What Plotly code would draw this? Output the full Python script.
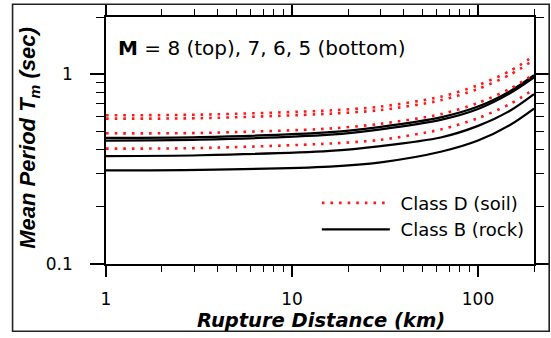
import math
import plotly.graph_objects as go

# ---- data ----
distance_km = [1, 3.2, 16, 30, 63, 100, 150, 200]
magnitudes = [8, 7, 6, 5]

soil_M8 = [0.607, 0.612, 0.644, 0.675, 0.760, 0.875, 1.045, 1.25]
soil_M7 = [0.583, 0.586, 0.619, 0.647, 0.728, 0.836, 0.998, 1.19]
soil_M6 = [0.488, 0.490, 0.517, 0.548, 0.615, 0.705, 0.842, 1.00]
soil_M5 = [0.405, 0.408, 0.431, 0.451, 0.511, 0.586, 0.700, 0.833]

rock_M8 = [0.462, 0.466, 0.495, 0.528, 0.592, 0.675, 0.818, 0.988]
rock_M7 = [0.447, 0.452, 0.480, 0.512, 0.574, 0.655, 0.797, 0.961]
rock_M6 = [0.370, 0.374, 0.394, 0.418, 0.464, 0.534, 0.645, 0.784]
rock_M5 = [0.311, 0.313, 0.326, 0.343, 0.390, 0.447, 0.543, 0.659]

soil_series = [soil_M8, soil_M7, soil_M6, soil_M5]
rock_series = [rock_M8, rock_M7, rock_M6, rock_M5]

x_tickvals = [1, 10, 100]
x_ticktext = ["1", "10", "100"]
x_minor = [2, 3, 4, 5, 6, 7, 8, 9, 20, 30, 40, 50, 60, 70, 80, 90, 200]
y_tickvals = [0.1, 1]
y_ticktext = ["0.1", "1"]
y_minor = [0.2, 0.3, 0.4, 0.5, 0.6, 0.7, 0.8, 0.9, 2]

soil_name = "\u00a0Class D (soil)"
rock_name = "\u00a0Class B (rock)"
title_text = "<b>M</b> = 8 (top), 7, 6, 5 (bottom)"
x_title = "<b><i>Rupture Distance (km)</i></b>"
y_title = "<b><i>Mean Period T<sub>m</sub> (sec)</i></b>"

# ---- figure ----
RED = "rgb(255,25,25)"
FONT = "DejaVu Sans, Liberation Sans, Arial"

fig = go.Figure()
for i, (m, ys) in enumerate(zip(magnitudes, rock_series)):
    fig.add_trace(go.Scatter(
        x=distance_km, y=ys, mode="lines", name=rock_name,
        legendgroup="rock", showlegend=(i == 0), legendrank=2,
        line=dict(color="black", width=2.2, shape="spline", smoothing=0.8),
    ))
for i, (m, ys) in enumerate(zip(magnitudes, soil_series)):
    fig.add_trace(go.Scatter(
        x=distance_km, y=ys, mode="lines", name=soil_name,
        legendgroup="soil", showlegend=(i == 0), legendrank=1,
        line=dict(color=RED, width=2.6, dash="2.6px,6px", shape="spline", smoothing=0.8),
    ))

L, R, T, B = 106, 16.7, 17.3, 73.7
W, H = 551, 338
pw, ph = W - L - R, H - T - B

def px2paper_x(px):
    return (px - L) / pw

def px2paper_y(py):
    return (H - B - py) / ph

axis_common = dict(
    type="log", showline=True, linecolor="black", linewidth=1.5, mirror="ticks",
    ticks="outside", tickcolor="black", tickwidth=1.5, showgrid=False, zeroline=False,
    tickmode="array", tickfont=dict(family=FONT, size=17, color="black"),
    automargin=False,
)

fig.update_xaxes(
    **axis_common, range=[0, math.log10(200)], tickvals=x_tickvals, ticktext=x_ticktext,
    ticklen=11, ticklabelstandoff=8,
    minor=dict(tickmode="array", tickvals=x_minor, ticks="outside", ticklen=6,
               tickwidth=1.3, tickcolor="black", showgrid=False),
)
fig.update_yaxes(
    **axis_common, range=[-1, math.log10(2)], tickvals=y_tickvals, ticktext=y_ticktext,
    ticklen=14, ticklabelstandoff=14,
    minor=dict(tickmode="array", tickvals=y_minor, ticks="outside", ticklen=8,
               tickwidth=1.3, tickcolor="black", showgrid=False),
)

fig.update_layout(
    width=W, height=H,
    margin=dict(l=L, r=R, t=T, b=B, pad=0, autoexpand=False),
    paper_bgcolor="white", plot_bgcolor="white",
    font=dict(family=FONT, color="black"),
    showlegend=True,
    legend=dict(
        x=px2paper_x(317), y=px2paper_y(185), xanchor="left", yanchor="top",
        bgcolor="rgba(0,0,0,0)", borderwidth=0, itemwidth=68,
        font=dict(family=FONT, size=18, color="black"),
        tracegroupgap=0,
    ),
    annotations=[
        dict(text=title_text, x=px2paper_x(116), y=px2paper_y(48.5), xref="paper", yref="paper",
             xanchor="left", yanchor="middle", showarrow=False,
             font=dict(family=FONT, size=20, color="black")),
        dict(text=x_title, x=px2paper_x(321), y=px2paper_y(321), xref="paper", yref="paper",
             xanchor="center", yanchor="middle", showarrow=False,
             font=dict(family=FONT, size=19.5, color="black")),
        dict(text=y_title, x=px2paper_x(29), y=px2paper_y(138), xref="paper", yref="paper",
             xanchor="center", yanchor="middle", showarrow=False, textangle=-90,
             font=dict(family="Liberation Sans, Arial", size=22, color="black")),
    ],
    shapes=[
        dict(type="rect", xref="paper", yref="paper",
             x0=px2paper_x(12.5), x1=px2paper_x(549.5), y0=px2paper_y(331.5), y1=px2paper_y(4.5),
             line=dict(color="#222", width=1.6), fillcolor="rgba(0,0,0,0)", layer="above"),
    ],
)

fig.write_html("out.html")
